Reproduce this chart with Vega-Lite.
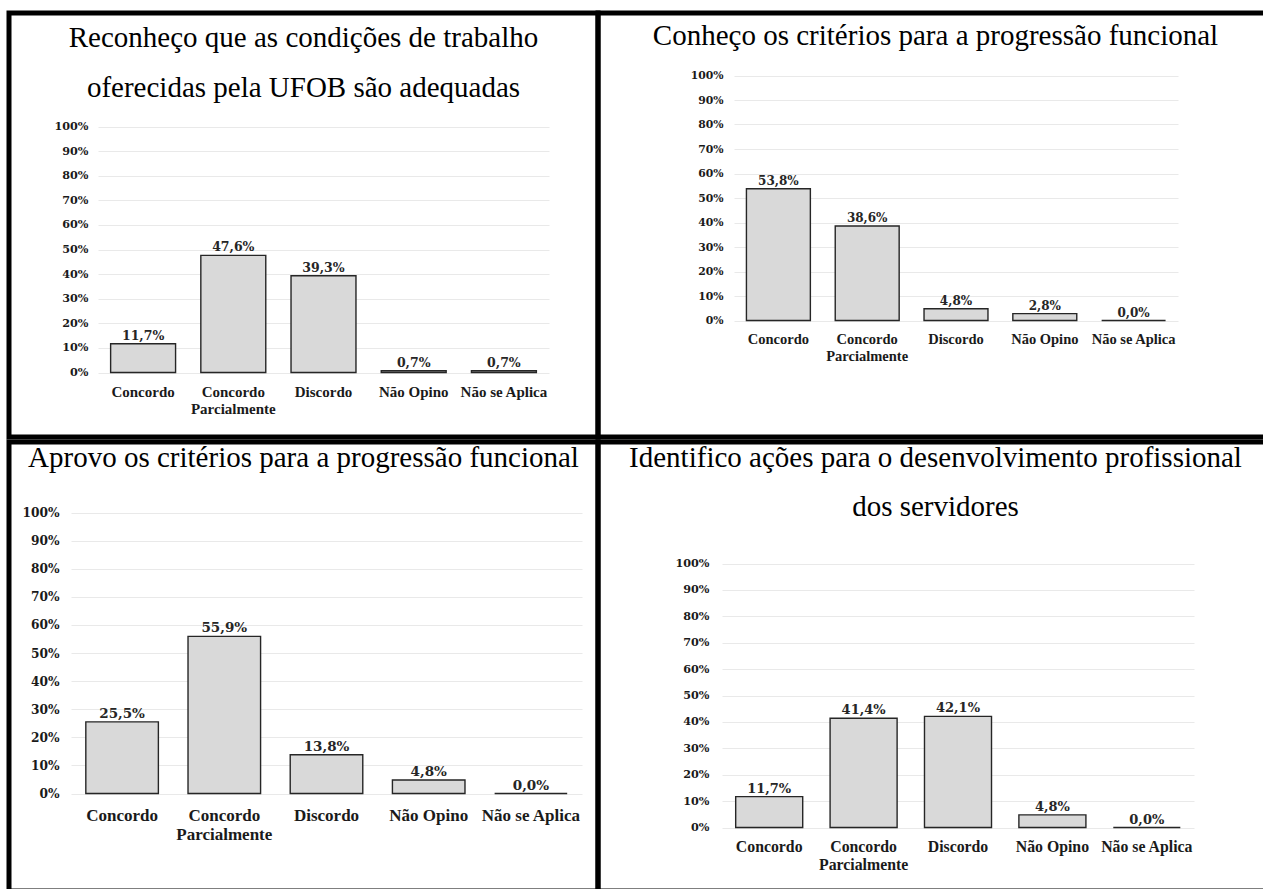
{
  "$schema": "https://vega.github.io/schema/vega-lite/v6.json",
  "padding": {"left": 6, "top": 10, "right": -6, "bottom": -5},
  "autosize": {"type": "pad"},
  "background": "white",
  "bounds": "flush",
  "align": "each",
  "columns": 2,
  "spacing": {"row": 5, "column": 0},
  "config": {
    "locale": {"number": {"decimal": ",", "thousands": ".", "grouping": [3], "currency": ["R$", ""]}},
    "view": {"stroke": "black", "strokeWidth": 5},
    "title": {"font": "Liberation Serif", "fontSize": 29, "fontWeight": "normal", "color": "black", "anchor": "middle", "frame": "group", "baseline": "top"},
    "axis": {"labelOverlap": false, "labelFlush": false, "ticks": false, "domain": false, "title": null, "labelLimit": 300}
  },
  "datasets": {
    "survey": [
      {"painel": "A", "resposta": "Concordo", "pct": 0.117},
      {"painel": "A", "resposta": "Concordo Parcialmente", "pct": 0.476},
      {"painel": "A", "resposta": "Discordo", "pct": 0.393},
      {"painel": "A", "resposta": "Não Opino", "pct": 0.007},
      {"painel": "A", "resposta": "Não se Aplica", "pct": 0.007},
      {"painel": "B", "resposta": "Concordo", "pct": 0.538},
      {"painel": "B", "resposta": "Concordo Parcialmente", "pct": 0.386},
      {"painel": "B", "resposta": "Discordo", "pct": 0.048},
      {"painel": "B", "resposta": "Não Opino", "pct": 0.028},
      {"painel": "B", "resposta": "Não se Aplica", "pct": 0.0},
      {"painel": "C", "resposta": "Concordo", "pct": 0.255},
      {"painel": "C", "resposta": "Concordo Parcialmente", "pct": 0.559},
      {"painel": "C", "resposta": "Discordo", "pct": 0.138},
      {"painel": "C", "resposta": "Não Opino", "pct": 0.048},
      {"painel": "C", "resposta": "Não se Aplica", "pct": 0.0},
      {"painel": "D", "resposta": "Concordo", "pct": 0.117},
      {"painel": "D", "resposta": "Concordo Parcialmente", "pct": 0.414},
      {"painel": "D", "resposta": "Discordo", "pct": 0.421},
      {"painel": "D", "resposta": "Não Opino", "pct": 0.048},
      {"painel": "D", "resposta": "Não se Aplica", "pct": 0.0}
    ]
  },
  "concat": [
    {
      "width": 589, "height": 424,
      "title": {"text": ["Reconheço que as condições de trabalho", "oferecidas pela UFOB são adequadas"], "offset": -90, "lineHeight": 50},
      "data": {"name": "survey"},
      "transform": [{"filter": "datum.painel == 'A'"}],
      "encoding": {
        "x": {"field": "resposta", "type": "nominal", "sort": ["Concordo", "Concordo Parcialmente", "Discordo", "Não Opino", "Não se Aplica"],
          "scale": {"range": [89, 540], "paddingInner": 0.28, "paddingOuter": 0.14},
          "axis": {"orient": "bottom", "offset": -64.5, "labelAngle": 0, "labelPadding": 12, "labelFont": "Liberation Serif", "labelFontWeight": "bold", "labelFontSize": 15, "labelLineHeight": 16.7, "labelColor": "#1a1a1a", "grid": false,
            "labelExpr": "datum.label == 'Concordo Parcialmente' ? ['Concordo', 'Parcialmente'] : datum.label"}},
        "y": {"field": "pct", "type": "quantitative",
          "scale": {"domain": [0, 1], "range": [359.5, 113.5], "nice": false},
          "axis": {"orient": "left", "offset": -83, "labelPadding": 4, "values": [0, 0.1, 0.2, 0.3, 0.4, 0.5, 0.6, 0.7, 0.8, 0.9, 1], "format": ".0%", "labelFont": "DejaVu Serif", "labelFontWeight": "bold", "labelFontSize": 11.2, "labelColor": "#1a1a1a", "grid": true, "gridColor": "#e9e9e9", "gridWidth": 1}}
      },
      "layer": [
        {"mark": {"type": "bar", "fill": "#d9d9d9", "stroke": "#262626", "strokeWidth": 1.4}},
        {"mark": {"type": "text", "baseline": "alphabetic", "dy": -4, "font": "DejaVu Serif", "fontWeight": "bold", "fontSize": 12.5, "color": "#262626"},
          "encoding": {"text": {"field": "pct", "type": "quantitative", "format": ".1%"}}}
      ]
    },
    {
      "width": 668, "height": 424,
      "title": {"text": "Conheço os critérios para a progressão funcional", "offset": -38, "dx": 3.5},
      "data": {"name": "survey"},
      "transform": [{"filter": "datum.painel == 'B'"}],
      "encoding": {
        "x": {"field": "resposta", "type": "nominal", "sort": ["Concordo", "Concordo Parcialmente", "Discordo", "Não Opino", "Não se Aplica"],
          "scale": {"range": [136, 580], "paddingInner": 0.28, "paddingOuter": 0.14},
          "axis": {"orient": "bottom", "offset": -116.5, "labelAngle": 0, "labelPadding": 11.6, "labelFont": "Liberation Serif", "labelFontWeight": "bold", "labelFontSize": 14.5, "labelLineHeight": 17, "labelColor": "#1a1a1a", "grid": false,
            "labelExpr": "datum.label == 'Concordo Parcialmente' ? ['Concordo', 'Parcialmente'] : datum.label"}},
        "y": {"field": "pct", "type": "quantitative",
          "scale": {"domain": [0, 1], "range": [307.5, 62.5], "nice": false},
          "axis": {"orient": "left", "offset": -129, "labelPadding": 4, "values": [0, 0.1, 0.2, 0.3, 0.4, 0.5, 0.6, 0.7, 0.8, 0.9, 1], "format": ".0%", "labelFont": "DejaVu Serif", "labelFontWeight": "bold", "labelFontSize": 10.8, "labelColor": "#1a1a1a", "grid": true, "gridColor": "#e9e9e9", "gridWidth": 1}}
      },
      "layer": [
        {"mark": {"type": "bar", "fill": "#d9d9d9", "stroke": "#262626", "strokeWidth": 1.4}},
        {"mark": {"type": "text", "baseline": "alphabetic", "dy": -4, "font": "DejaVu Serif", "fontWeight": "bold", "fontSize": 12, "color": "#262626"},
          "encoding": {"text": {"field": "pct", "type": "quantitative", "format": ".1%"}}}
      ]
    },
    {
      "width": 589, "height": 449,
      "title": {"text": "Aprovo os critérios para a progressão funcional", "offset": -31},
      "data": {"name": "survey"},
      "transform": [{"filter": "datum.painel == 'C'"}],
      "encoding": {
        "x": {"field": "resposta", "type": "nominal", "sort": ["Concordo", "Concordo Parcialmente", "Discordo", "Não Opino", "Não se Aplica"],
          "scale": {"range": [62, 573], "paddingInner": 0.29, "paddingOuter": 0.145},
          "axis": {"orient": "bottom", "offset": -97.5, "labelAngle": 0, "labelPadding": 13.6, "labelFont": "Liberation Serif", "labelFontWeight": "bold", "labelFontSize": 17, "labelLineHeight": 19, "labelColor": "#1a1a1a", "grid": false,
            "labelExpr": "datum.label == 'Concordo Parcialmente' ? ['Concordo', 'Parcialmente'] : datum.label"}},
        "y": {"field": "pct", "type": "quantitative",
          "scale": {"domain": [0, 1], "range": [351.5, 70.5], "nice": false},
          "axis": {"orient": "left", "offset": -54, "labelPadding": 4, "values": [0, 0.1, 0.2, 0.3, 0.4, 0.5, 0.6, 0.7, 0.8, 0.9, 1], "format": ".0%", "labelFont": "DejaVu Serif", "labelFontWeight": "bold", "labelFontSize": 12.2, "labelColor": "#1a1a1a", "grid": true, "gridColor": "#e9e9e9", "gridWidth": 1}}
      },
      "layer": [
        {"mark": {"type": "bar", "fill": "#d9d9d9", "stroke": "#262626", "strokeWidth": 1.4}},
        {"mark": {"type": "text", "baseline": "alphabetic", "dy": -4, "font": "DejaVu Serif", "fontWeight": "bold", "fontSize": 13.5, "color": "#262626"},
          "encoding": {"text": {"field": "pct", "type": "quantitative", "format": ".1%"}}}
      ]
    },
    {
      "width": 668, "height": 449,
      "title": {"text": ["Identifico ações para o desenvolvimento profissional", "dos servidores"], "offset": -80, "dx": 3.5, "lineHeight": 49},
      "data": {"name": "survey"},
      "transform": [{"filter": "datum.painel == 'D'"}],
      "encoding": {
        "x": {"field": "resposta", "type": "nominal", "sort": ["Concordo", "Concordo Parcialmente", "Discordo", "Não Opino", "Não se Aplica"],
          "scale": {"range": [124, 596], "paddingInner": 0.29, "paddingOuter": 0.145},
          "axis": {"orient": "bottom", "offset": -63.5, "labelAngle": 0, "labelPadding": 12, "labelFont": "Liberation Serif", "labelFontWeight": "bold", "labelFontSize": 15.8, "labelLineHeight": 18, "labelColor": "#1a1a1a", "grid": false,
            "labelExpr": "datum.label == 'Concordo Parcialmente' ? ['Concordo', 'Parcialmente'] : datum.label"}},
        "y": {"field": "pct", "type": "quantitative",
          "scale": {"domain": [0, 1], "range": [385.5, 121.5], "nice": false},
          "axis": {"orient": "left", "offset": -115, "labelPadding": 4, "values": [0, 0.1, 0.2, 0.3, 0.4, 0.5, 0.6, 0.7, 0.8, 0.9, 1], "format": ".0%", "labelFont": "DejaVu Serif", "labelFontWeight": "bold", "labelFontSize": 11.2, "labelColor": "#1a1a1a", "grid": true, "gridColor": "#e9e9e9", "gridWidth": 1}}
      },
      "layer": [
        {"mark": {"type": "bar", "fill": "#d9d9d9", "stroke": "#262626", "strokeWidth": 1.4}},
        {"mark": {"type": "text", "baseline": "alphabetic", "dy": -4, "font": "DejaVu Serif", "fontWeight": "bold", "fontSize": 13, "color": "#262626"},
          "encoding": {"text": {"field": "pct", "type": "quantitative", "format": ".1%"}}}
      ]
    }
  ]
}
